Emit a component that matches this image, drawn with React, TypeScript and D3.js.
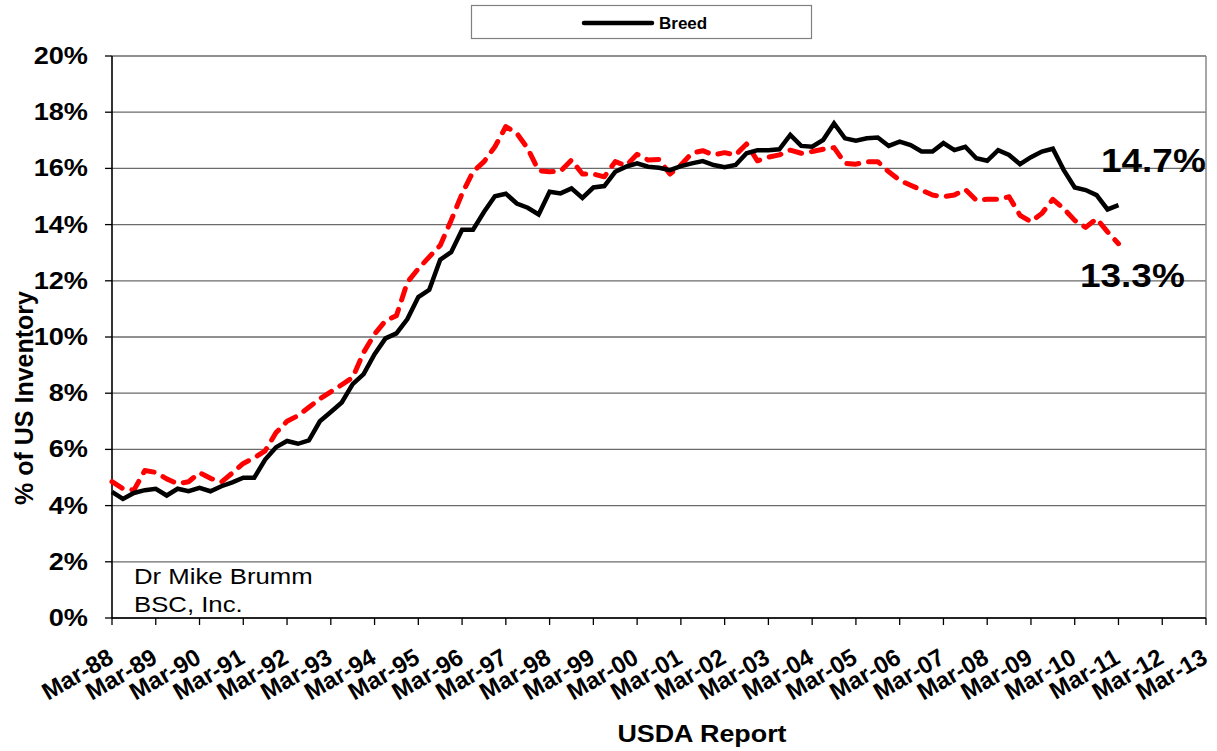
import React from "react";
import * as d3 from "d3";

// Quarterly USDA reports, Mar-88 .. Mar-11 (93 points)
const breed: number[] = [
  4.49, 4.24, 4.45, 4.55, 4.6, 4.36, 4.6, 4.51, 4.63, 4.51, 4.69, 4.83, 4.99, 4.99, 5.64, 6.08,
  6.3, 6.2, 6.32, 7.0, 7.33, 7.67, 8.32, 8.68, 9.39, 9.95, 10.13, 10.64, 11.42, 11.68, 12.75, 13.02,
  13.82, 13.82, 14.45, 15.01, 15.1, 14.75, 14.6, 14.36, 15.17, 15.11, 15.29, 14.95, 15.32, 15.37, 15.88, 16.06,
  16.18, 16.06, 16.02, 15.94, 16.08, 16.18, 16.26, 16.12, 16.04, 16.12, 16.54, 16.65, 16.65, 16.68, 17.19, 16.8,
  16.77, 17.01, 17.6, 17.07, 16.99, 17.07, 17.1, 16.8, 16.95, 16.83, 16.6, 16.6, 16.9, 16.65, 16.77, 16.36,
  16.27, 16.65, 16.48, 16.15, 16.4, 16.6, 16.7, 15.94, 15.32, 15.23, 15.05, 14.54, 14.69,
];

const market: number[] = [
  4.85, 4.6, 4.55, 5.25, 5.18, 4.95, 4.78, 4.85, 5.17, 4.97, 4.84, 5.16, 5.5, 5.7, 5.95, 6.6,
  7.0, 7.2, 7.5, 7.8, 8.05, 8.3, 8.56, 9.45, 10.1, 10.58, 10.76, 11.95, 12.43, 12.85, 13.26, 14.15,
  15.1, 15.88, 16.24, 16.77, 17.49, 17.25, 16.71, 15.92, 15.88, 15.9, 16.3, 15.8, 15.8, 15.7, 16.24, 16.1,
  16.5, 16.3, 16.32, 15.8, 16.12, 16.54, 16.63, 16.48, 16.56, 16.48, 16.87, 16.27, 16.4, 16.48, 16.65, 16.54,
  16.6, 16.68, 16.74, 16.18, 16.15, 16.24, 16.24, 15.88, 15.58, 15.4, 15.23, 15.05, 14.99, 15.05, 15.25, 14.87,
  14.9, 14.9, 14.99, 14.33, 14.1, 14.4, 14.9, 14.57, 14.15, 13.9, 14.21, 13.74, 13.32,
];

const xTickLabels: string[] = [
  "Mar-88", "Mar-89", "Mar-90", "Mar-91", "Mar-92", "Mar-93", "Mar-94", "Mar-95", "Mar-96",
  "Mar-97", "Mar-98", "Mar-99", "Mar-00", "Mar-01", "Mar-02", "Mar-03", "Mar-04", "Mar-05",
  "Mar-06", "Mar-07", "Mar-08", "Mar-09", "Mar-10", "Mar-11", "Mar-12", "Mar-13",
];
const yTicks: number[] = [0, 2, 4, 6, 8, 10, 12, 14, 16, 18, 20];

const W = 1217;
const H = 751;
const left = 112;
const right = 1206;
const top = 56;
const bottom = 618;
const FONT = "'Liberation Sans', Arial, Helvetica, sans-serif";

const sx = (x0: number, k: number) => `translate(${x0} 0) scale(${k} 1) translate(${-x0} 0)`;

export default function App() {
  const x = d3.scaleLinear().domain([0, 100]).range([left, right]);
  const y = d3.scaleLinear().domain([0, 20]).range([bottom, top]);
  const line = d3
    .line<number>()
    .x((_, i) => x(i))
    .y((d) => y(d));

  return (
    <svg
      width={W}
      height={H}
      style={{ position: "absolute", left: 0, top: 0, background: "#fff" }}
      fontFamily={FONT}
    >
      <rect x={0} y={0} width={W} height={H} fill="#fff" />
      {/* gridlines */}
      {yTicks.map((t) => (
        <line key={"g" + t} x1={left} x2={right} y1={y(t)} y2={y(t)} stroke="#6b6b6b" strokeWidth={1.3} />
      ))}
      {/* right border */}
      <line x1={right} x2={right} y1={top} y2={bottom} stroke="#8a8a8a" strokeWidth={1.5} />
      {/* y axis */}
      <line x1={left} x2={left} y1={top} y2={bottom + 0.5} stroke="#000" strokeWidth={1.6} />
      {yTicks.map((t) => (
        <g key={"yt" + t}>
          <line x1={left - 7} x2={left} y1={y(t)} y2={y(t)} stroke="#000" strokeWidth={1.3} />
          <text x={88} y={y(t) + 8} textAnchor="end" fontSize={23} fontWeight="bold" transform={sx(88, 1.18)}>
            {t}%
          </text>
        </g>
      ))}
      {/* x axis */}
      <line x1={left} x2={right} y1={bottom} y2={bottom} stroke="#000" strokeWidth={1.6} />
      {xTickLabels.map((lab, k) => {
        const xx = x(k * 4);
        return (
          <g key={lab}>
            <line x1={xx} x2={xx} y1={bottom} y2={bottom + 7} stroke="#000" strokeWidth={1.3} />
            <text
              transform={`translate(${xx + 3},${bottom + 44}) rotate(-30)`}
              textAnchor="end"
              fontSize={24}
              fontWeight="bold"
            >
              {lab}
            </text>
          </g>
        );
      })}
      {/* series */}
      <path d={line(market) || ""} fill="none" stroke="#ff0000" strokeWidth={5} strokeDasharray="12 10" strokeLinecap="round" strokeLinejoin="round" />
      <path d={line(breed) || ""} fill="none" stroke="#000" strokeWidth={4.5} strokeLinejoin="miter" />
      {/* end labels */}
      <text x={1101} y={172} fontSize={33} fontWeight="bold" transform={sx(1101, 1.12)}>14.7%</text>
      <text x={1080} y={287} fontSize={33} fontWeight="bold" transform={sx(1080, 1.12)}>13.3%</text>
      {/* author */}
      <text x={134} y={584} fontSize={22} transform={sx(134, 1.17)}>Dr Mike Brumm</text>
      <text x={134} y={612} fontSize={22} transform={sx(134, 1.17)}>BSC, Inc.</text>
      {/* axis titles */}
      <text transform="translate(33,398) rotate(-90)" textAnchor="middle" fontSize={25} fontWeight="bold">
        % of US Inventory
      </text>
      <text x={702} y={742} textAnchor="middle" fontSize={24} fontWeight="bold" transform={sx(702, 1.12)}>
        USDA Report
      </text>
      {/* legend */}
      <rect x={471.5} y={5.5} width={340} height={33} fill="#fff" stroke="#808080" strokeWidth={1.2} />
      <line x1={584} x2={652} y1={23} y2={23} stroke="#000" strokeWidth={4.5} strokeLinecap="round" />
      <text x={659} y={29} fontSize={17} fontWeight="bold">Breed</text>
    </svg>
  );
}
